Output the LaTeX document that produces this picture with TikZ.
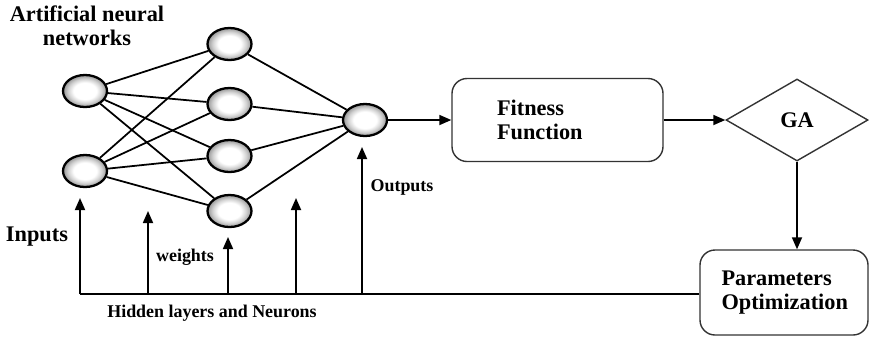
\documentclass[tikz,border=0pt]{standalone}
\usepackage{fontspec}
\setmainfont{Liberation Serif}
\usetikzlibrary{shapes, arrows.meta}
\pgfdeclareradialshading{neuronball}{\pgfpoint{0bp}{0bp}}{%
        color(0bp)=(white);
        color(13bp)=(white);
        color(19bp)=(gray!35);
        color(24bp)=(gray!75);
        color(50bp)=(gray!80)}
\tikzstyle{neuron} =
        [
                ellipse,
                draw,
                line width = 1.3pt,
                minimum width = 0.88cm,
                minimum height = 0.64cm,
                inner sep = 0pt,
                shading = neuronball
        ]
\tikzstyle{block} =
        [
                rectangle,
                draw = black!80,
                line width = 0.8pt,
                align = left,
                rounded corners = 0.3cm,
                font = \bfseries\fontsize{12.7}{14}\selectfont
        ]
\tikzstyle{decision} =
        [
                diamond,
                draw = black!80,
                line width = 0.8pt,
                minimum width = 2.84cm,
                minimum height = 1.64cm,
                inner sep = 0pt,
                font = \bfseries\fontsize{12.7}{14}\selectfont
        ]
\tikzstyle{line} =
        [
                draw,
                line width = 1pt,
                -{Triangle[length = 2.4mm, width = 2mm]}
        ]
\tikzstyle{link} =
        [
                draw,
                line width = 1pt
        ]
\tikzstyle{bigtext} =
        [
                align = center,
                font = \bfseries\fontsize{12.7}{13.5}\selectfont
        ]
\tikzstyle{smalltext} =
        [
                font = \bfseries\fontsize{10.2}{12}\selectfont
        ]

\begin{document}
\begin{tikzpicture}[node distance = 1.6cm, auto]
        \useasboundingbox (0,0) rectangle (17.38,-6.74);
        % network
        \node [neuron] at (1.70,-1.82) (in1) {};
        \node [neuron, below of = in1] (in2) {};
        \node [neuron] at (4.59,-0.88) (h1) {};
        \node [neuron, below of = h1, node distance = 1.2cm] (h2) {};
        \node [neuron, below of = h2, node distance = 1.04cm] (h3) {};
        \node [neuron, below of = h3, node distance = 1.1cm] (h4) {};
        \node [neuron] at (7.30,-2.40) (out) {};
        % blocks
        \node [block, right of = out, node distance = 3.85cm, minimum width = 4.22cm, minimum height = 1.66cm, text width = 2.42cm] (fit) {Fitness\\Function};
        \node [decision, right of = fit, node distance = 4.79cm] (ga) {GA};
        \node [block, minimum width = 3.36cm, minimum height = 1.70cm, text width = 2.5cm] at (15.68,-5.85) (params) {Parameters\\Optimization};
        % texts
        \node [bigtext] at (1.74,-0.52) (title) {Artificial neural\\networks};
        \node [bigtext] at (0.74,-4.74) (inputs) {Inputs};
        \node [smalltext] at (3.70,-5.14) (weights) {weights};
        \node [smalltext] at (8.04,-3.74) (outputs) {Outputs};
        \node [smalltext] at (4.24,-6.26) (hidden) {Hidden layers and Neurons};
        % feedback points
        \coordinate (b1) at (1.60,-5.88);
        \coordinate (b2) at (2.96,-5.88);
        \coordinate (b3) at (4.56,-5.88);
        \coordinate (b4) at (5.92,-5.88);
        \coordinate (b5) at (7.24,-5.88);
        \coordinate (t1) at (1.60,-3.96);
        \coordinate (t2) at (2.96,-4.22);
        \coordinate (t3) at (4.56,-4.74);
        \coordinate (t4) at (5.92,-3.96);
        \coordinate (t5) at (7.24,-2.94);
        \path [link] (in1) -- (h1);
        \path [link] (in1) -- (h2);
        \path [link] (in1) -- (h3);
        \path [link] (in1) -- (h4);
        \path [link] (in2) -- (h1);
        \path [link] (in2) -- (h2);
        \path [link] (in2) -- (h3);
        \path [link] (in2) -- (h4);
        \path [link] (h1) -- (out);
        \path [link] (h2) -- (out);
        \path [link] (h3) -- (out);
        \path [link] (h4) -- (out);
        \path [line] (out) -- (fit);
        \path [line] (fit) -- (ga);
        \path [line] (ga.south) -- (ga.south |- params.north);
        \path [link] (params.west |- b1) -- (b1);
        \path [line] (b1) -- (t1);
        \path [line] (b2) -- (t2);
        \path [line] (b3) -- (t3);
        \path [line] (b4) -- (t4);
        \path [line] (b5) -- (t5);
\end{tikzpicture}
\end{document}
